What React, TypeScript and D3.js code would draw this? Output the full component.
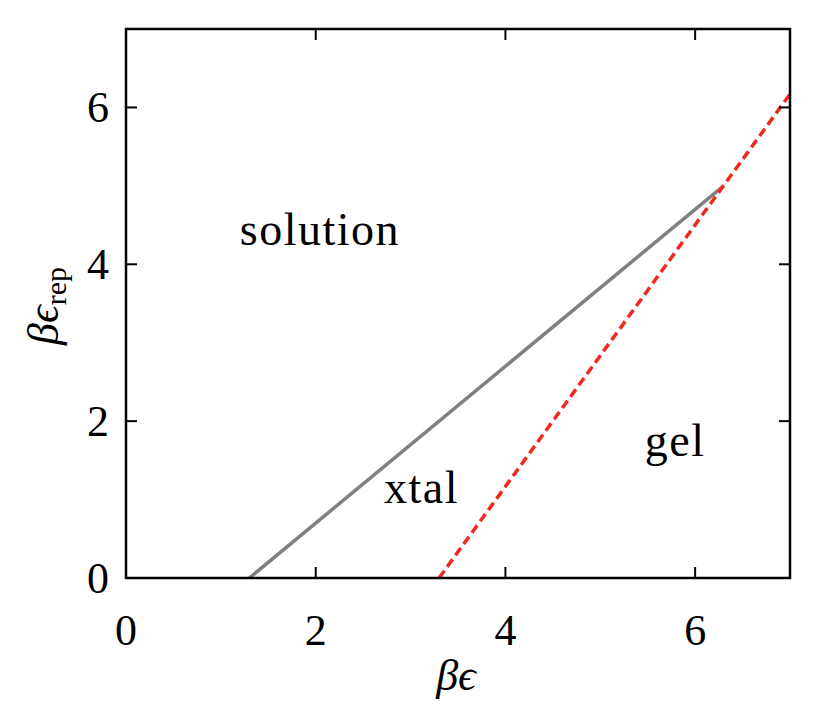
import React from "react";
import * as d3 from "d3";

const xTicks = [0, 2, 4, 6];
const yTicks = [0, 2, 4, 6];
const xDomain = [0, 7];
const yDomain = [0, 7];
// solid gray boundary (solution / xtal)
const grayX = [1.3, 6.3];
const grayY = [0, 5.0];
// dashed red boundary (xtal / gel)
const redX = [3.3, 7.0];
const redY = [0, 6.17];
const regionLabels = ["solution", "xtal", "gel"];
const regionX = [1.2, 2.72, 5.47];
const regionY = [4.24, 0.96, 1.56];

const W = 830, H = 723;
const M = { left: 126, right: 40, top: 29, bottom: 145 };
const FONT = "'Liberation Serif', 'Times New Roman', serif";

export default function App() {
  const x = d3.scaleLinear().domain(xDomain).range([M.left, W - M.right]);
  const y = d3.scaleLinear().domain(yDomain).range([H - M.bottom, M.top]);
  const line = d3.line<[number, number]>().x(d => x(d[0])).y(d => y(d[1]));
  const gray = line(grayX.map((v, i) => [v, grayY[i]] as [number, number]))!;
  const red = line(redX.map((v, i) => [v, redY[i]] as [number, number]))!;
  const x0 = x(xDomain[0]), x1 = x(xDomain[1]), y0 = y(yDomain[0]), y1 = y(yDomain[1]);
  const tl = 11;
  return (
    <svg width={W} height={H} style={{ position: "absolute", left: 0, top: 0, background: "#fff" }}>
      <defs>
        <clipPath id="clip"><rect x={x0} y={y1} width={x1 - x0} height={y0 - y1} /></clipPath>
      </defs>
      <g clipPath="url(#clip)">
        <path d={gray} stroke="#808080" strokeWidth={3.5} fill="none" />
        <path d={red} stroke="#f0281e" strokeWidth={3.5} fill="none" strokeDasharray="9,5" />
      </g>
      {xTicks.map(t => (
        <g key={"x" + t}>
          <line x1={x(t)} x2={x(t)} y1={y0} y2={y0 - tl} stroke="#000" strokeWidth={2} />
          <line x1={x(t)} x2={x(t)} y1={y1} y2={y1 + tl} stroke="#000" strokeWidth={2} />
          <text x={x(t)} y={645} textAnchor="middle" fontFamily={FONT} fontSize={44}>{t}</text>
        </g>
      ))}
      {yTicks.map(t => (
        <g key={"y" + t}>
          <line x1={x0} x2={x0 + tl} y1={y(t)} y2={y(t)} stroke="#000" strokeWidth={2} />
          <line x1={x1} x2={x1 - tl} y1={y(t)} y2={y(t)} stroke="#000" strokeWidth={2} />
          <text x={109} y={y(t) + 15} textAnchor="end" fontFamily={FONT} fontSize={44}>{t}</text>
        </g>
      ))}
      <rect x={x0} y={y1} width={x1 - x0} height={y0 - y1} fill="none" stroke="#000" strokeWidth={2.5} />
      {regionLabels.map((s, i) => (
        <text key={s} x={x(regionX[i])} y={y(regionY[i])} fontFamily={FONT} fontSize={46} letterSpacing={1.5}>{s}</text>
      ))}
      <text x={456} y={690} textAnchor="middle" fontFamily={FONT} fontSize={44}>
        <tspan fontStyle="italic">β</tspan><tspan fontStyle="italic">ϵ</tspan>
      </text>
      <text transform="translate(58,306) rotate(-90)" textAnchor="middle" fontFamily={FONT} fontSize={44}>
        <tspan fontStyle="italic">βϵ</tspan><tspan fontSize={30} dy={8}>rep</tspan>
      </text>
    </svg>
  );
}
